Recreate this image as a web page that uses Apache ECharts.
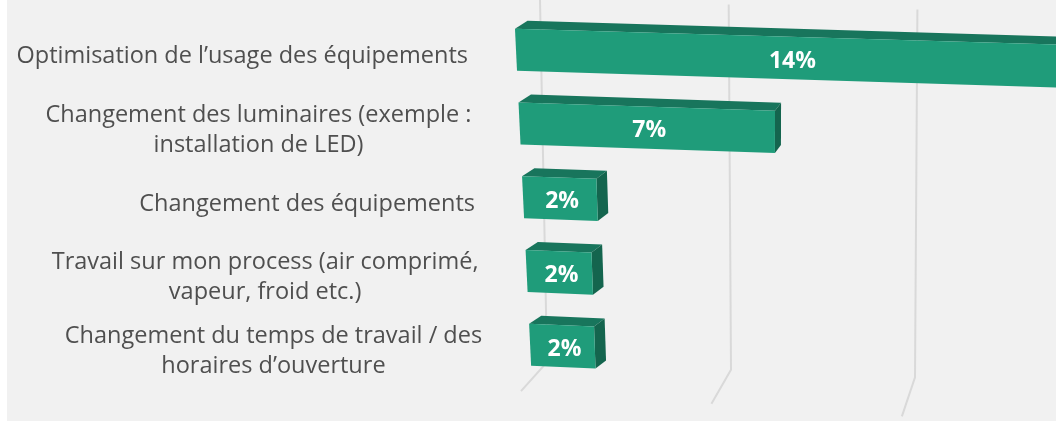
<!DOCTYPE html>
<html>
<head>
<meta charset="utf-8">
<script src="https://cdn.jsdelivr.net/npm/echarts@6/dist/echarts.min.js"></script>
<style>
html, body { margin: 0; padding: 0; background: #fff; }
#main { width: 1056px; height: 422px; }
</style>
</head>
<body>
<div id="main"></div>
<script>
// données
var categories = [
    'Optimisation de l\u2019usage des équipements',
    'Changement des luminaires (exemple :\ninstallation de LED)',
    'Changement des équipements',
    'Travail sur mon process (air comprimé,\nvapeur, froid etc.)',
    'Changement du temps de travail / des\nhoraires d\u2019ouverture'
];
var values = [14.4, 6.8, 2.0, 1.8, 1.8];
var gridTicks = [0, 5, 10];

var FONT = '"Open Sans", "Noto Sans", sans-serif';
var labelFont = '23.5px ' + FONT;
var frontColor = '#1f9c7a', topColor = '#18755c', sideColor = '#14654e';

var myChart = echarts.init(document.getElementById('main'));

var ctx = document.createElement('canvas').getContext('2d');
function textWidth(str, font) {
    ctx.font = font;
    return Math.max.apply(null, str.split('\n').map(function (s) {
        return ctx.measureText(s).width;
    }));
}

// petite perspective : faces avant légèrement inclinées
function warp(x0, x, y) {
    var m = 1.04 - 0.0002 * y;
    var X = x0 + (x - x0) * m + 0.048 * (y - 50);
    var Y = y + (0.028 + 0.00004 * y) * (X - x0);
    return [X, Y];
}
function depth(x0, p) {
    return [p[0] + 12.5 - 0.025 * (p[0] - x0), p[1] - 8];
}

function renderBar(params, api) {
    var v = api.value(0), i = api.value(1);
    var start = api.coord([0, i]), end = api.coord([v, i]);
    var h = api.size([0, 1])[1] * 0.57;
    var x0 = start[0], yc = start[1];
    var yT = yc - h / 2, yB = yc + h / 2;
    var fTL = warp(x0, x0, yT), fTR = warp(x0, end[0], yT);
    var fBR = warp(x0, end[0], yB), fBL = warp(x0, x0, yB);
    var bTL = depth(x0, fTL), bTR = depth(x0, fTR), bBR = depth(x0, fBR);
    var mid = warp(x0, (x0 + end[0]) / 2, yc);
    return {
        type: 'group',
        children: [
            { type: 'polygon', shape: { points: [fTL, bTL, bTR, fTR] }, style: { fill: topColor } },
            { type: 'polygon', shape: { points: [fTR, bTR, bBR, fBR] }, style: { fill: sideColor } },
            { type: 'polygon', shape: { points: [fTL, fTR, fBR, fBL] }, style: { fill: frontColor } },
            {
                type: 'text', x: mid[0] + 2, y: mid[1] + 3,
                style: {
                    text: Math.round(v) + '%', fill: '#fff', font: 'bold 23px ' + FONT,
                    align: 'center', verticalAlign: 'middle'
                }
            }
        ]
    };
}

function renderWall(params, api) {
    var v = api.value(0);
    var x0 = api.coord([0, 0])[0];
    var px = api.coord([v, 0])[0];
    var d = px - x0;
    var yFirst = api.coord([0, 0])[1], yLast = api.coord([0, categories.length - 1])[1];
    var top = [px + 24 + d * 0.02, yFirst - 50 + d * 0.026];
    var bot = [px + 31 - d * 0.0054, yLast + 18 + d * 0.041];
    var k = bot[0] - (x0 + 31);
    var floor = [bot[0] - 26 + 0.035 * k, bot[1] + 29 + 0.027 * k];
    return {
        type: 'polyline',
        shape: { points: [top, bot, floor] },
        style: { stroke: '#d9d9d9', lineWidth: 2, fill: null }
    };
}

function renderCategory(params, api) {
    var i = api.value(1);
    var p = api.coord([0, i]);
    var left = warp(p[0], p[0], p[1]);
    var right = left[0] - 48;
    var w = textWidth(categories[i], labelFont);
    return {
        type: 'text',
        x: right - w / 2,
        y: p[1] + 7,
        style: {
            text: categories[i], font: labelFont, fill: '#4f4f4f',
            align: 'center', verticalAlign: 'middle', lineHeight: 30
        }
    };
}

option = {
    backgroundColor: '#fff',
    animation: false,
    graphic: [{
        type: 'rect', left: 7, top: 0, z: -10,
        shape: { width: 1049, height: 421 },
        style: { fill: '#f1f1f1' }
    }],
    grid: { left: 516, top: 13, width: 518, height: 368 },
    xAxis: {
        type: 'value', min: 0, max: 14,
        show: false, splitLine: { show: false }
    },
    yAxis: {
        type: 'category', inverse: true,
        data: categories,
        show: false
    },
    series: [{
        type: 'custom',
        renderItem: renderWall,
        encode: { x: 0, y: 1 },
        data: gridTicks.map(function (t) { return [t, 0]; }),
        z: 1
    }, {
        type: 'custom',
        renderItem: renderBar,
        encode: { x: 0, y: 1 },
        data: values.map(function (v, i) { return [v, i]; }),
        z: 2
    }, {
        type: 'custom',
        renderItem: renderCategory,
        encode: { x: 0, y: 1 },
        data: categories.map(function (c, i) { return [0, i]; }),
        z: 3
    }]
};

myChart.setOption(option);
</script>
</body>
</html>
